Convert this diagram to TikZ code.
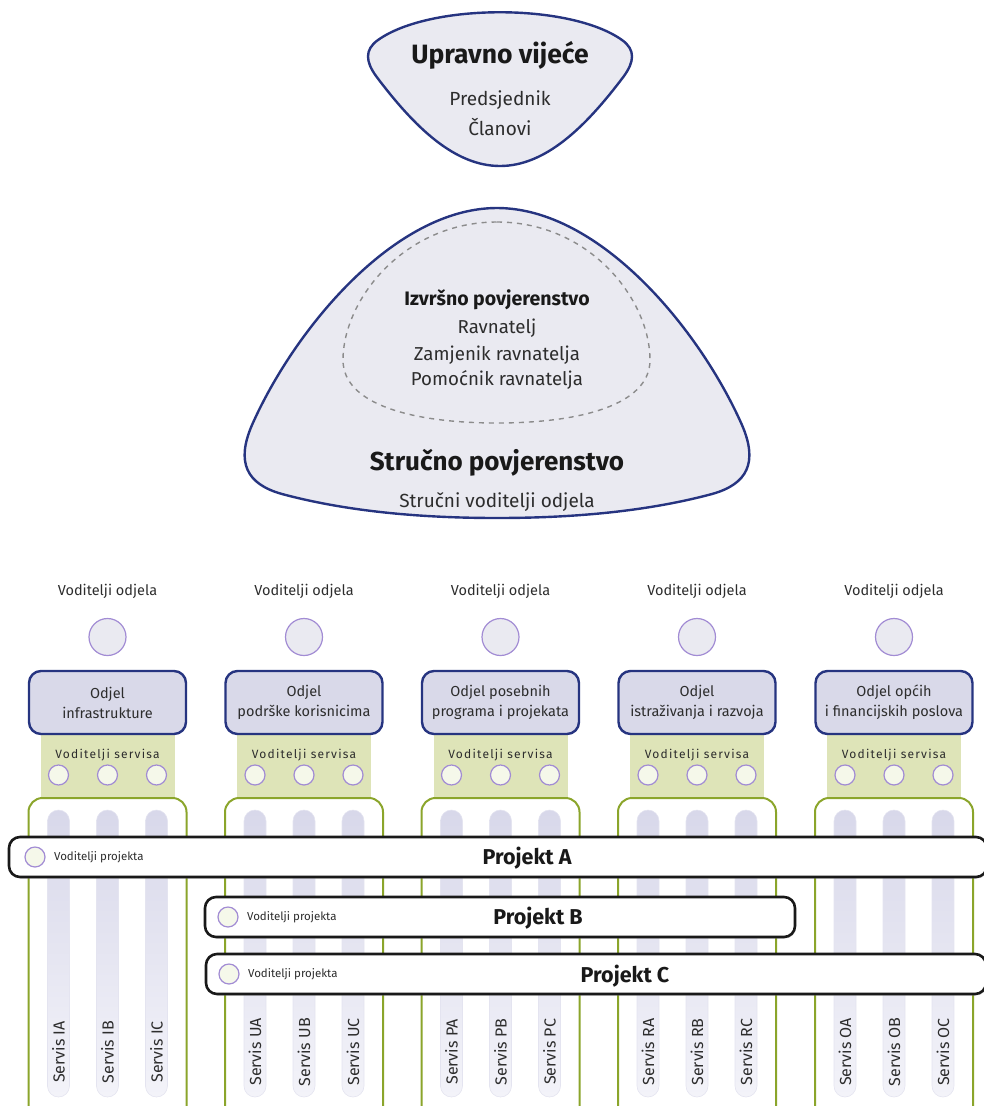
\documentclass[tikz,border=0pt]{standalone}
\usepackage{fontspec}
\setmainfont{Fira Sans}
\newfontfamily\spacedfont[LetterSpace=10]{Fira Sans}
\usetikzlibrary{positioning,shadows}

\definecolor{navy}{RGB}{38,52,128}
\definecolor{paleblue}{RGB}{234,234,241}
\definecolor{deptfill}{RGB}{217,217,233}
\definecolor{lilac}{RGB}{162,140,212}
\definecolor{greenzone}{RGB}{222,228,184}
\definecolor{olive}{RGB}{139,165,43}
\definecolor{dotfill}{RGB}{245,248,234}
\definecolor{bartop}{RGB}{216,216,234}
\definecolor{barbottom}{RGB}{243,243,249}
\definecolor{ink}{RGB}{45,45,45}

\tikzset{
  council/.style={draw=navy, line width=2.4pt, fill=paleblue},
  title/.style={font=\bfseries\fontsize{#1}{#1}\selectfont, text=black!90},
  title/.default=19,
  plain/.style={font=\fontsize{#1}{#1}\selectfont, text=ink},
  plain/.default=18.7,
  headdot/.style={circle, draw=lilac, line width=1.2pt, fill=paleblue,
    minimum size=37pt, inner sep=0pt},
  servdot/.style={circle, draw=lilac, line width=1.2pt, fill=dotfill,
    minimum size=20pt, inner sep=0pt},
  deptbox/.style={draw=navy, line width=2.4pt, fill=deptfill, rounded corners=12pt,
    minimum width=157pt, minimum height=63pt, align=center, text=ink,
    font=\fontsize{14.5}{20}\selectfont},
  servbar/.style={rounded corners=11pt, draw=bartop!70, line width=0.6pt,
    top color=bartop, bottom color=barbottom, minimum width=22pt,
    minimum height=287pt, inner sep=0pt},
  projbar/.style={draw=black!90, line width=2.6pt, fill=white, rounded corners=11pt,
    minimum height=40pt, inner sep=0pt,
    drop shadow={shadow xshift=1pt, shadow yshift=-1.5pt, fill=black!35}},
}

\begin{document}
\begin{tikzpicture}[x=1pt, y=-1pt]
  \useasboundingbox (0,0) rectangle (984,1106);
  \clip (0,0) rectangle (984,1106);

  % upravno vijece
  \draw[council] (378,40) .. controls (430,3) and (570,3) .. (622,40)
    .. controls (636,50) and (634,62) .. (624,76)
    .. controls (585,128) and (545,166) .. (500,166)
    .. controls (455,166) and (415,128) .. (376,76)
    .. controls (366,62) and (364,50) .. (378,40) -- cycle;
  \node[title=26.5] (uv) at (500,55) {Upravno vijeće};
  \node[plain=19] (pred) at (500,100) {Predsjednik};
  \node[plain=19] (clan) at (500,127) {Članovi};

  % strucno povjerenstvo
  \draw[council] (497,208) .. controls (600,208) and (700,330) .. (742,425)
    .. controls (758,462) and (748,484) .. (712,494)
    .. controls (645,512) and (570,518) .. (497,518)
    .. controls (424,518) and (349,512) .. (282,494)
    .. controls (246,484) and (236,462) .. (252,425)
    .. controls (294,330) and (394,208) .. (497,208) -- cycle;
  \draw[black!45, line width=1.4pt, dash pattern=on 5pt off 5pt]
    (497,222) .. controls (590,222) and (650,300) .. (650,360)
    .. controls (650,405) and (580,423) .. (497,423)
    .. controls (414,423) and (343,405) .. (343,360)
    .. controls (343,300) and (404,222) .. (497,222);
  \node[title=19.5] (ip) at (497,300) {Izvršno povjerenstvo};
  \node[plain] (rav) at (497,328) {Ravnatelj};
  \node[plain] (zam) at (497,355) {Zamjenik ravnatelja};
  \node[plain] (pom) at (497,380) {Pomoćnik ravnatelja};
  \node[title=26] (sp) at (497,463) {Stručno povjerenstvo};
  \node[plain=19] (svo) at (497,502) {Stručni voditelji odjela};

  % odjeli
  \foreach \c/\name/\sa/\sb/\sc [count=\i] in {
      107.5/{Odjel\\infrastrukture}/IA/IB/IC,
      304/{Odjel\\podrške korisnicima}/UA/UB/UC,
      500.5/{Odjel posebnih\\programa i projekata}/PA/PB/PC,
      697/{Odjel\\istraživanja i razvoja}/RA/RB/RC,
      894/{Odjel općih\\i financijskih poslova}/OA/OB/OC}{
    \node[plain=14.5] (vo\i) at (\c,591) {Voditelji odjela};
    \node[headdot] (hd\i) at (\c,637) {};
    \fill[greenzone] (\c-67,728) rectangle (\c+67,797);
    \draw[olive, line width=2pt, rounded corners=14pt]
      (\c-79,1140) -- (\c-79,798) -- (\c+79,798) -- (\c+79,1140);
    \node[deptbox] (dp\i) at (\c,702.5) {\name};
    \node[font=\spacedfont\fontsize{12}{12}\selectfont, text=ink] (vs\i) at (\c,755) {Voditelji servisa};
    \node[servdot] (sd\i a) at (\c-49,775) {};
    \node[servdot] (sd\i b) at (\c,775) {};
    \node[servdot] (sd\i c) at (\c+49,775) {};
    \node[servbar] (sb\i a) at (\c-49,953.5) {};
    \node[servbar] (sb\i b) at (\c,953.5) {};
    \node[servbar] (sb\i c) at (\c+49,953.5) {};
    \node[plain=16, rotate=90] (st\i a) at (\c-49,1052) {Servis \sa};
    \node[plain=16, rotate=90] (st\i b) at (\c,1052) {Servis \sb};
    \node[plain=16, rotate=90] (st\i c) at (\c+49,1052) {Servis \sc};
  }

  % projekti
  \node[projbar, minimum width=978pt] (pa) at (498,857) {};
  \node[servdot] (pad) at (35,857) {};
  \node[plain=11.5, right=5pt of pad] (pav) {Voditelji projekta};
  \node[title=21.5] (pat) at (527,858) {Projekt A};

  \node[projbar, minimum width=590pt] (pb) at (500,917) {};
  \node[servdot] (pbd) at (228,917) {};
  \node[plain=11.5, right=5pt of pbd] (pbv) {Voditelji projekta};
  \node[title=21.5] (pbt) at (538,918) {Projekt B};

  \node[projbar, minimum width=780pt] (pc) at (596,974) {};
  \node[servdot] (pcd) at (229,974) {};
  \node[plain=11.5, right=5pt of pcd] (pcv) {Voditelji projekta};
  \node[title=21.5] (pct) at (625,976) {Projekt C};
\end{tikzpicture}
\end{document}
